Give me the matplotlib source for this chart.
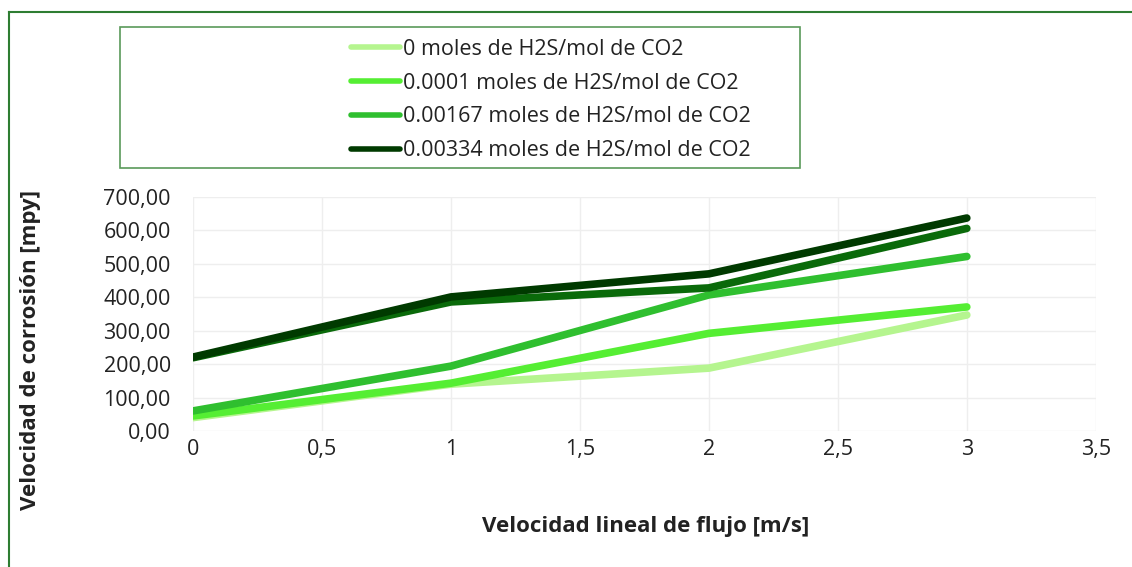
import matplotlib.pyplot as plt
from matplotlib.patches import Rectangle
from matplotlib.lines import Line2D

plt.rcParams['font.family'] = ['Open Sans', 'DejaVu Sans']

velocidad = [0, 1, 2, 3]
h2s_0 = [40, 140, 188, 347]
h2s_00001 = [45, 143, 292, 371]
h2s_000167 = [60, 194, 407, 522]
h2s_extra = [219, 386, 428, 606]
h2s_000334 = [221, 401, 470, 637]

etiquetas = ["0 moles de H2S/mol de CO2",
             "0.0001 moles de H2S/mol de CO2",
             "0.00167 moles de H2S/mol de CO2",
             "0.00334 moles de H2S/mol de CO2"]
colores = ["#b5f58f", "#55ee33", "#2fbf2f", "#0a6a0a", "#003a00"]

fig = plt.figure(figsize=(11.32, 5.67), dpi=100)
ax = fig.add_axes([0.1705, 0.2399, 0.7975, 0.4127])

ax.plot(velocidad, h2s_0, color=colores[0], lw=5.5, solid_capstyle='round', label=etiquetas[0])
ax.plot(velocidad, h2s_00001, color=colores[1], lw=5.5, solid_capstyle='round', label=etiquetas[1])
ax.plot(velocidad, h2s_000167, color=colores[2], lw=5.5, solid_capstyle='round', label=etiquetas[2])
ax.plot(velocidad, h2s_extra, color=colores[3], lw=5.5, solid_capstyle='round')
ax.plot(velocidad, h2s_000334, color=colores[4], lw=5.5, solid_capstyle='round', label=etiquetas[3])

ax.set_xlim(0, 3.5)
ax.set_ylim(0, 700)
ax.set_xticks([0, 0.5, 1, 1.5, 2, 2.5, 3, 3.5])
ax.set_xticklabels(["0", "0,5", "1", "1,5", "2", "2,5", "3", "3,5"])
ax.set_yticks(range(0, 701, 100))
ax.set_yticklabels(["{:.2f}".format(v).replace(".", ",") for v in range(0, 701, 100)])
ax.tick_params(length=0, labelsize=15.5, colors='#222222')
ax.tick_params(axis='x', pad=6)
ax.tick_params(axis='y', pad=16)
ax.grid(color='#eeeeee', lw=1)
ax.set_axisbelow(True)
for s in ax.spines.values():
    s.set_visible(False)

fig.text(0.57, 0.071, "Velocidad lineal de flujo [m/s]", ha='center', va='center',
         fontsize=16, fontweight='bold', color='#222222')
fig.text(0.027, 0.383, "Velocidad de corrosión [mpy]", ha='center', va='center',
         rotation=90, fontsize=16, fontweight='bold', color='#222222')

# marco exterior y caja de la leyenda
fig.add_artist(Line2D([9 / 1132, 1], [1 - 12 / 567, 1 - 12 / 567], color='#2e7d32', lw=1.5,
                      transform=fig.transFigure))
fig.add_artist(Line2D([9 / 1132, 9 / 1132], [0, 1 - 12 / 567], color='#2e7d32', lw=1.5,
                      transform=fig.transFigure))
fig.add_artist(Rectangle((120 / 1132, 1 - 168 / 567), 680 / 1132, 141 / 567, fill=False,
                         edgecolor='#5a9a5a', lw=1.2, transform=fig.transFigure))

leg = fig.legend(loc='upper left', bbox_to_anchor=(342 / 1132, 1 - 30 / 567), frameon=False,
                 fontsize=15.5, handlelength=2.3, handletextpad=0.15, labelspacing=0.6,
                 borderaxespad=0)
for t in leg.get_texts():
    t.set_color('#222222')
for h in leg.legend_handles:
    h.set_linewidth(4)

fig.savefig("out.png", dpi=100)
